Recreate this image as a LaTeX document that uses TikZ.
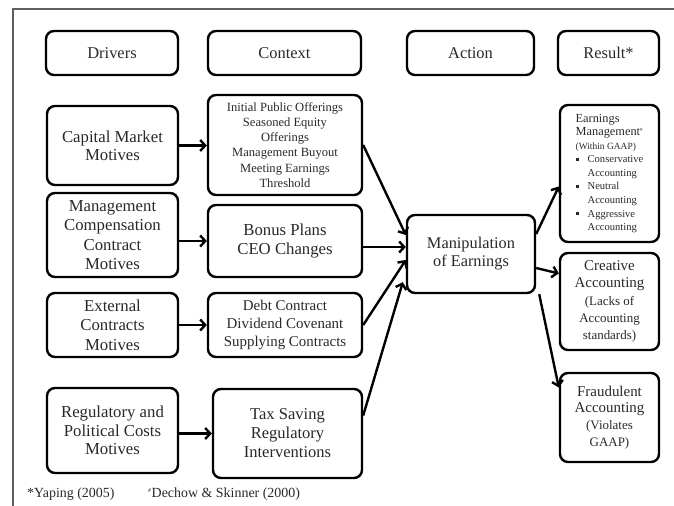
\documentclass[tikz,border=0pt]{standalone}
\usepackage{fontspec}
\setmainfont{Liberation Serif}
\usetikzlibrary{arrows.meta, positioning, calc}
\definecolor{InkGray}{RGB}{40,40,40}
\definecolor{FrameGray}{RGB}{95,95,95}
\newcommand{\fsz}[2]{\fontsize{#1}{#2}\selectfont}
\newcommand{\sqbul}{\makebox[12bp][l]{\rule[1.8bp]{3bp}{3bp}}}
\tikzset{
  box/.style={draw=black, rounded corners=8bp, line width=2.4bp, inner sep=0pt,
              align=center, text=InkGray},
  head/.style={box, minimum height=44bp, font=\fsz{16.5}{19}},
  flow/.style={line width=2.4bp, -{Straight Barb[length=5bp,width=11bp]}},
}

\begin{document}
\begin{tikzpicture}[x=1bp, y=-1bp]
  \useasboundingbox (0,0) rectangle (674,506);
  \draw[FrameGray, line width=1.3bp] (674,9) -- (13,9) -- (13,506);

  % headings
  \node[head, minimum width=132bp] (hdrivers) at (112,53) {Drivers};
  \node[head, minimum width=153bp] (hcontext) at (284.5,53) {Context};
  \node[head, minimum width=127bp] (haction) at (470.5,53) {Action};
  \node[head, minimum width=101bp] (hresult) at (608.5,53) {Result*};

  % drivers
  \node[box, minimum width=131bp, minimum height=79bp, font=\fsz{16.8}{18.5}]
    (capital) at (112.5,145.5) {Capital Market\\Motives};
  \node[box, minimum width=131bp, minimum height=84bp, font=\fsz{16.8}{19.5}]
    (compens) at (112.5,235) {Management\\Compensation\\Contract\\Motives};
  \node[box, minimum width=131bp, minimum height=64bp, font=\fsz{16.8}{19.5}]
    (external) at (112.5,325) {External\\Contracts\\Motives};
  \node[box, minimum width=131bp, minimum height=85bp, font=\fsz{16.8}{18.5}]
    (regulat) at (112.5,430.5) {Regulatory and\\Political Costs\\Motives};

  % context
  \node[box, minimum width=154bp, minimum height=100bp, font=\fsz{12.6}{15.2}]
    (offers) at (285,145) {Initial Public Offerings\\Seasoned Equity\\Offerings\\Management Buyout\\Meeting Earnings\\Threshold};
  \node[box, minimum width=154bp, minimum height=72bp, font=\fsz{16.8}{20}]
    (bonus) at (285,241) {Bonus Plans\\CEO Changes};
  \node[box, minimum width=154bp, minimum height=64bp, font=\fsz{15}{18}]
    (debt) at (285,325) {Debt Contract\\Dividend Covenant\\Supplying Contracts};
  \node[box, minimum width=149bp, minimum height=89bp, font=\fsz{16.6}{19}]
    (tax) at (287.5,433.5) {Tax Saving\\Regulatory\\Interventions};

  % action
  \node[box, minimum width=128bp, minimum height=78bp, font=\fsz{16.4}{18}]
    (manip) at (471,254) {Manipulation\\of Earnings};

  % results
  \node[box, align=left, minimum width=99bp, minimum height=137bp, font=\fsz{10.6}{13.6}]
    (earnmgmt) at (609.5,173.5) {%
      {\fsz{12.4}{13.6}Earnings}\\
      {\fsz{12.4}{13.6}Management\textsuperscript{\fsz{5}{6}\#}}\\
      {\fsz{9.5}{13.6}(Within GAAP)}\\
      \sqbul Conservative\\
      \hspace*{12bp}Accounting\\
      \sqbul Neutral\\
      \hspace*{12bp}Accounting\\
      \sqbul Aggressive\\
      \hspace*{12bp}Accounting};
  \node[box, minimum width=99bp, minimum height=97bp, font=\fsz{15}{17.5}]
    (creative) at (609.5,301.5) {Creative\\Accounting\\{\fsz{13}{16}(Lacks of}\\{\fsz{13}{16}Accounting}\\{\fsz{13}{16}standards)}};
  \node[box, minimum width=99bp, minimum height=89bp, font=\fsz{15}{16.7}]
    (fraud) at (609.5,417.5) {Fraudulent\\Accounting\\{\fsz{13}{16}(Violates}\\{\fsz{13}{16}GAAP)}};

  % drivers to context
  \draw[flow] (capital.east) -- (capital.east -| offers.west);
  \draw[flow] (bonus.west -| compens.east) -- (bonus.west);
  \draw[flow] (external) -- (debt);
  \draw[flow] (tax.west -| regulat.east) -- (tax.west);

  % context to action
  \draw[flow] (offers.east) -- ($(manip.west)+(0,-19)$);
  \draw[flow] ($(bonus.east)+(0,6)$) -- ($(manip.west)+(0,-7)$);
  \draw[flow] (debt.east) -- ($(manip.west)+(0,6)$);
  \draw[flow] ($(tax.east)+(0,-18)$) -- ($(manip.south west)+(-3,-12)$);

  % action to results
  \draw[flow] ($(manip.east)+(0,-20)$) -- ($(earnmgmt.west)+(0,13)$);
  \draw[flow] ($(manip.east)+(0,14)$) -- ($(creative.west)+(0,-28)$);
  \draw[flow] ($(manip.south east)+(3,0)$) -- ($(fraud.west)+(0,-30)$);

  % sources
  \node[anchor=west, inner sep=0pt, text=InkGray, font=\fsz{14}{16}] (yaping) at (27,494) {*Yaping (2005)};
  \node[anchor=west, inner sep=0pt, text=InkGray, font=\fsz{14}{16}] (dechow) at (148,494)
    {\textsuperscript{\fsz{6}{7}\#}Dechow \& Skinner (2000)};
\end{tikzpicture}
\end{document}
